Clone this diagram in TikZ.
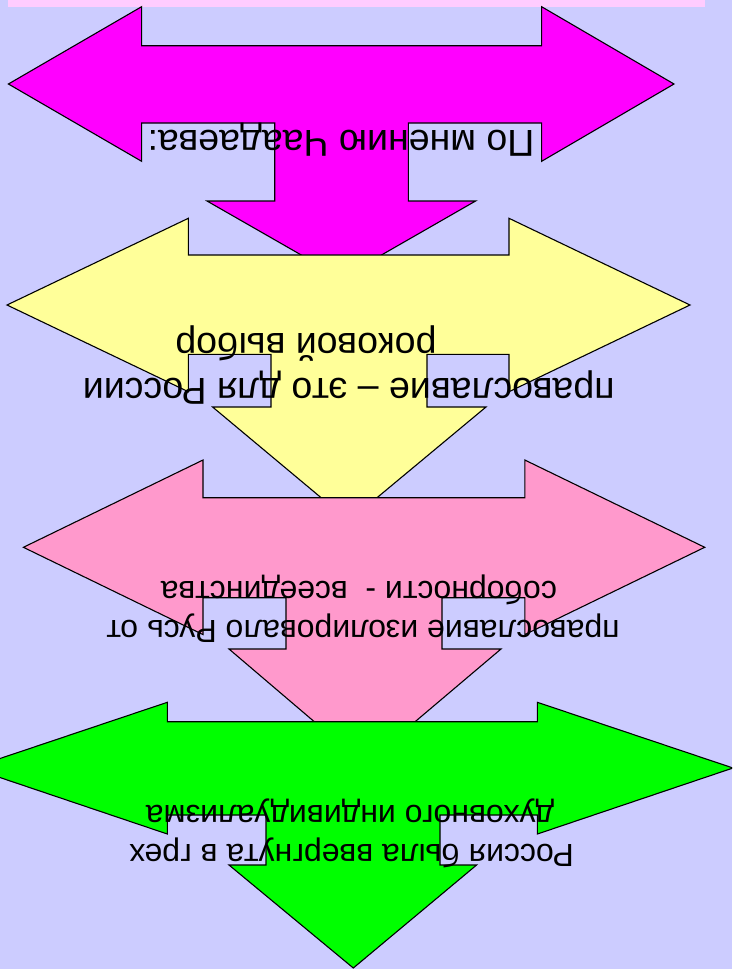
\documentclass[tikz,border=0pt]{standalone}
\usepackage{fontspec}
\setmainfont{Liberation Sans}
\definecolor{bgc}{HTML}{CCCCFF}
\definecolor{stripc}{HTML}{FFCCFF}
\definecolor{magc}{HTML}{FF00FF}
\definecolor{yelc}{HTML}{FFFF99}
\definecolor{pinkc}{HTML}{FF99CC}
\definecolor{grnc}{HTML}{00FF00}
\tikzset{
  tarrow/.style={draw=black, line width=1.1pt, line join=miter},
  flip/.style={rotate=180, anchor=base, inner sep=0pt, text=black},
  bigtxt/.style={font=\fontsize{37.5}{45}\selectfont},
  smalltxt/.style={font=\fontsize{32}{38}\selectfont},
}
\begin{document}
\begin{tikzpicture}[x=1pt,y=-1pt]
\useasboundingbox (0,0) rectangle (732,969);
\clip (0,0) rectangle (732,969);
\fill[bgc] (0,0) rectangle (732,969);
\fill[stripc] (8.4,0) rectangle (704.7,6.7);
% magenta
\draw[tarrow, fill=magc] (8.4,84) -- (141.6,6.7) -- (141.6,45.7) -- (541.6,45.7) -- (541.6,6.7) -- (674,84)
  -- (541.6,161.3) -- (541.6,123) -- (408.4,123) -- (408.4,201) -- (475.6,201) -- (341.4,278)
  -- (207,201) -- (274.7,201) -- (274.7,123) -- (141.6,123) -- (141.6,161.3) -- cycle;
\node[flip, bigtxt] (t1) at (341,130.5) {По мнению Чаадаева:};
% yellow
\draw[tarrow, fill=yelc] (7,305) -- (188.3,218.3) -- (188.3,255) -- (509,255) -- (509,218.3) -- (690,305)
  -- (509,391.7) -- (509,354.3) -- (427,354.3) -- (427,407) -- (486,407) -- (349,521)
  -- (212.6,407) -- (271,407) -- (271,354.3) -- (188.3,354.3) -- (188.3,391.7) -- cycle;
\node[flip, bigtxt] (t2a) at (348.8,378.3) {православие – это для России};
\node[flip, bigtxt] (t2b) at (306,333.3) {роковой выбор};
% pink
\draw[tarrow, fill=pinkc] (23.4,547.3) -- (203,460) -- (203,497.7) -- (524.8,497.7) -- (524.8,460) -- (704.7,547.3)
  -- (524.8,634.6) -- (524.8,597.7) -- (442,597.7) -- (442,649) -- (501,649) -- (364.5,764.5)
  -- (229,649) -- (286,649) -- (286,597.7) -- (203,597.7) -- (203,634.6) -- cycle;
\node[flip, smalltxt] (t3a) at (363,620) {православие изолировало Русь от};
\node[flip, smalltxt] (t3b) at (359,581.7) {соборности -\ \ всеединства};
% green
\draw[tarrow, fill=grnc] (-28.3,768) -- (167.3,702.3) -- (167.3,721.7) -- (537.4,721.7) -- (537.4,702.3) -- (733,768)
  -- (537.4,834) -- (537.4,815) -- (440,815) -- (440,865) -- (476.6,865) -- (353.3,968)
  -- (229,865) -- (266,865) -- (266,815) -- (167.3,815) -- (167.3,834) -- cycle;
\node[flip, smalltxt] (t4a) at (351.5,844) {Россия была ввергнута в грех};
\node[flip, smalltxt] (t4b) at (350,805.6) {духовного индивидуализма};
\end{tikzpicture}
\end{document}
